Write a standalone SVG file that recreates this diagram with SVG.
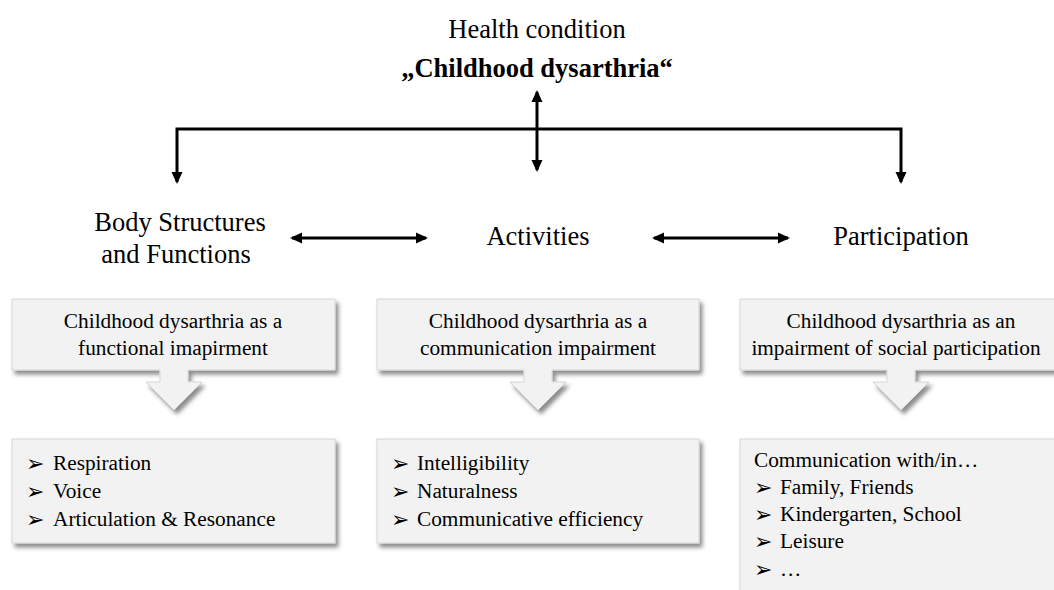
<svg xmlns="http://www.w3.org/2000/svg" width="1054" height="590" viewBox="0 0 1054 590">
<style>
.t{font-family:"Liberation Serif","Times New Roman",Tinos,"DejaVu Serif","Noto Serif",serif;fill:#000}
.hd{font-size:26.5px}
.lb{font-size:26.5px}
.bx{font-size:21.3px}
.bl{font-family:"DejaVu Sans",sans-serif;font-size:22px;fill:#000}
.box{fill:#f2f2f2;stroke:#d6d6d6;stroke-width:1;filter:url(#sh)}
.con{stroke:#000;stroke-width:3;fill:none}
</style>
<defs>
<filter id="sh" x="-10%" y="-10%" width="130%" height="140%">
<feDropShadow dx="3" dy="4" stdDeviation="2.2" flood-color="#000" flood-opacity="0.45"/>
</filter>
<marker id="ah" markerUnits="userSpaceOnUse" markerWidth="12" markerHeight="12" refX="10" refY="6" orient="auto-start-reverse" viewBox="0 0 12 12">
<path d="M0,0.5 L12,6 L0,11.5 Z" fill="#000"/>
</marker>
</defs>

<g id="health">
<text class="t hd" x="537" y="38" text-anchor="middle">Health condition</text>
<text class="t hd" x="537" y="77" text-anchor="middle" font-weight="bold">„Childhood dysarthria“</text>
</g>

<g id="connectors">
<path class="con" d="M177,182 V129 H901 V182" marker-start="url(#ah)" marker-end="url(#ah)"/>
<line class="con" x1="537" y1="92" x2="537" y2="170" marker-start="url(#ah)" marker-end="url(#ah)"/>
<line class="con" x1="292" y1="238" x2="426" y2="238" marker-start="url(#ah)" marker-end="url(#ah)"/>
<line class="con" x1="654" y1="238" x2="788" y2="238" marker-start="url(#ah)" marker-end="url(#ah)"/>
</g>

<g id="body">
<text class="t lb" x="180" y="231" text-anchor="middle">Body Structures</text>
<text class="t lb" x="176" y="263" text-anchor="middle">and Functions</text>
</g>
<g id="activities">
<text class="t lb" x="538" y="245" text-anchor="middle">Activities</text>
</g>
<g id="participation">
<text class="t lb" x="901" y="245" text-anchor="middle">Participation</text>
</g>

<g id="callout1">
<path class="box" d="M12,299 H335 V370 H188 V382 H202 L174,410 L146,382 H160 V370 H12 Z"/>
<text class="t bx" x="173" y="328" text-anchor="middle">Childhood dysarthria as a</text>
<text class="t bx" x="173" y="355" text-anchor="middle">functional imapirment</text>
</g>
<g id="callout2">
<path class="box" d="M377,299 H699 V370 H552 V382 H566 L538,410 L510,382 H524 V370 H377 Z"/>
<text class="t bx" x="538" y="328" text-anchor="middle">Childhood dysarthria as a</text>
<text class="t bx" x="538" y="355" text-anchor="middle">communication impairment</text>
</g>
<g id="callout3">
<path class="box" d="M740,299 H1062 V370 H915 V382 H929 L901,410 L873,382 H887 V370 H740 Z"/>
<text class="t bx" x="901" y="328" text-anchor="middle">Childhood dysarthria as an</text>
<text class="t bx" x="896" y="355" text-anchor="middle">impairment of social participation</text>
</g>

<g id="list1">
<rect class="box" x="12" y="439" width="323" height="104"/>
<text class="bl" x="26" y="471">➢</text><text class="t bx" x="53" y="470">Respiration</text>
<text class="bl" x="26" y="499">➢</text><text class="t bx" x="53" y="498">Voice</text>
<text class="bl" x="26" y="527">➢</text><text class="t bx" x="53" y="526">Articulation &amp; Resonance</text>
</g>
<g id="list2">
<rect class="box" x="377" y="439" width="322" height="104"/>
<text class="bl" x="391" y="471">➢</text><text class="t bx" x="417" y="470">Intelligibility</text>
<text class="bl" x="391" y="499">➢</text><text class="t bx" x="417" y="498">Naturalness</text>
<text class="bl" x="391" y="527">➢</text><text class="t bx" x="417" y="526">Communicative efficiency</text>
</g>
<g id="list3">
<rect class="box" x="740" y="439" width="322" height="160"/>
<text class="t bx" x="754" y="467">Communication with/in…</text>
<text class="bl" x="754" y="495">➢</text><text class="t bx" x="780" y="494">Family, Friends</text>
<text class="bl" x="754" y="522">➢</text><text class="t bx" x="780" y="521">Kindergarten, School</text>
<text class="bl" x="754" y="549">➢</text><text class="t bx" x="780" y="548">Leisure</text>
<text class="bl" x="754" y="577">➢</text><text class="t bx" x="780" y="576">…</text>
</g>
</svg>
